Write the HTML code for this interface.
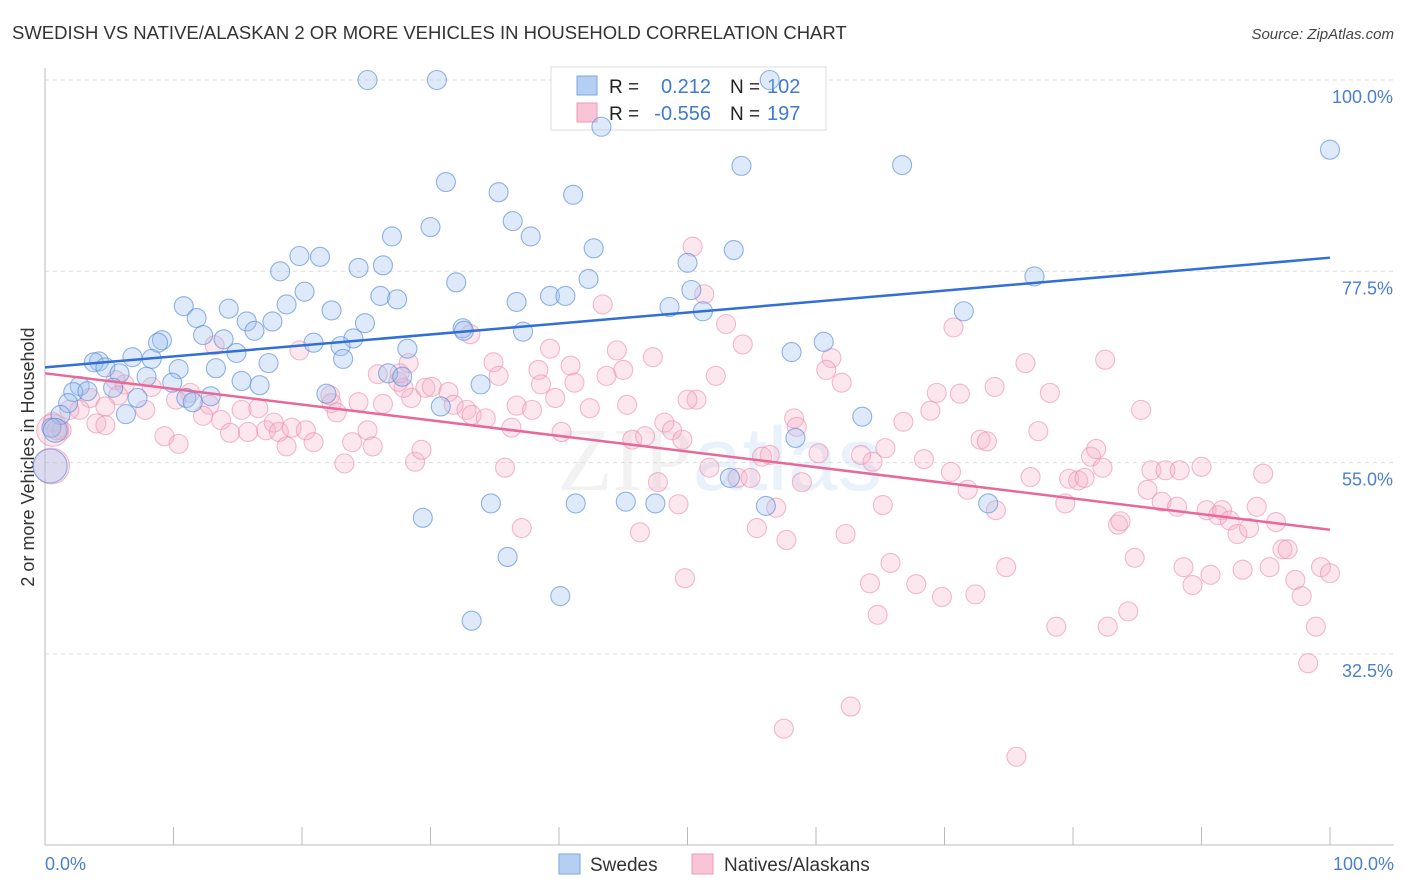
<!DOCTYPE html>
<html><head><meta charset="utf-8">
<style>
body{margin:0;background:#fff;font-family:"Liberation Sans",sans-serif;}
svg{display:block}
</style></head>
<body>
<svg id="chart" width="1406" height="892" viewBox="0 0 1406 892" xmlns="http://www.w3.org/2000/svg">
<text x="12" y="39" font-size="18.5" fill="#333">SWEDISH VS NATIVE/ALASKAN 2 OR MORE VEHICLES IN HOUSEHOLD CORRELATION CHART</text>
<text x="1394" y="39" font-size="15" fill="#444" font-style="italic" text-anchor="end">Source: ZipAtlas.com</text>
<text x="720" y="490" font-size="90" fill="#000" fill-opacity="0.05" text-anchor="middle" font-family="Liberation Serif, serif">ZIP<tspan font-family="Liberation Sans, sans-serif" fill="#4a8fd8" fill-opacity="0.12">atlas</tspan></text>
<text transform="translate(34,457) rotate(-90)" font-size="18" fill="#333" text-anchor="middle">2 or more Vehicles in Household</text>
<g id="grid"></g>
<g id="axes"></g>
<g>
<rect x="551" y="67" width="275" height="63" fill="#fff" stroke="#ddd"/>
<rect x="577" y="76" width="20" height="19" fill="#b5cff3" stroke="#7ba7e0"/>
<rect x="577" y="103" width="20" height="19" fill="#f9c4d5" stroke="#f09ab7"/>
<text x="609" y="93" font-size="19" fill="#222">R =</text>
<text x="711" y="93" font-size="20" fill="#3f7ad3" text-anchor="end">0.212</text>
<text x="730" y="93" font-size="19" fill="#222">N =</text>
<text x="767" y="93" font-size="20" fill="#3f7ad3">102</text>
<text x="609" y="120" font-size="19" fill="#222">R =</text>
<text x="711" y="120" font-size="20" fill="#3f7ad3" text-anchor="end">-0.556</text>
<text x="730" y="120" font-size="19" fill="#222">N =</text>
<text x="767" y="120" font-size="20" fill="#3f7ad3">197</text>
</g>
<g id="pts"></g>
<g id="trends"></g>
<g>
<rect x="559" y="854" width="21" height="20" fill="#b5cff3" stroke="#7ba7e0"/>
<text x="590" y="871" font-size="19" fill="#333">Swedes</text>
<rect x="692" y="854" width="21" height="20" fill="#f9c4d5" stroke="#f09ab7"/>
<text x="724" y="871" font-size="19" fill="#333">Natives/Alaskans</text>
</g>
</svg>
<script>
const yTicks=[100,77.5,55,32.5];
const yTickLabels=["100.0%","77.5%","55.0%","32.5%"];
const xTickLabels=["0.0%","100.0%"];
const blueX=[25.1,30.5,56.4,43.3,100,54.2,66.7,31.2,35.3,41.1,36.4,30.0,37.8,27.0,42.7,19.8,21.4,50.0,53.6,18.3,24.4,26.3,42.3,32.0,77.0,50.3,20.2,26.1,27.4,39.3,40.5,36.7,10.8,18.8,48.6,51.2,71.5,14.3,22.3,15.7,24.9,32.5,32.6,37.2,11.8,12.3,13.9,16.3,17.7,9.1,8.8,20.9,24.0,23.0,28.2,14.9,60.6,58.1,4.2,3.8,6.8,8.3,23.2,17.4,4.7,5.8,10.4,13.3,26.7,27.8,7.9,2.7,2.2,3.3,5.3,9.9,15.3,16.7,33.9,7.2,11.0,11.5,12.9,21.9,1.8,1.2,6.3,30.8,63.6,0.5,58.4,53.3,41.3,34.7,45.2,47.5,56.1,73.4,29.4,36.0,40.1,33.2,0.4,0.8];
const blueY=[100,100,100,94.5,91.8,89.9,90.0,88.0,86.8,86.5,83.4,82.7,81.6,81.6,80.2,79.3,79.2,78.5,80.0,77.5,77.9,78.2,76.6,76.2,76.9,75.3,75.1,74.6,74.2,74.6,74.6,73.9,73.4,73.6,73.3,72.8,72.8,73.1,72.9,71.6,71.4,70.8,70.5,70.4,72.0,70.0,69.5,70.5,71.6,69.4,69.1,69.1,69.6,68.7,68.4,67.9,69.2,68.0,66.9,66.8,67.4,67.2,67.2,66.7,66.2,65.5,66.0,66.1,65.5,65.1,65.1,64.0,63.3,63.4,63.8,64.4,64.6,64.1,64.2,62.6,62.6,62.1,62.8,63.1,62.0,60.6,60.7,61.6,60.4,59.1,57.9,53.2,50.2,50.2,50.4,50.2,49.9,50.2,48.5,43.9,39.3,36.4,54.6,58.8];
const pinkX=[50.4,51.3,43.4,33.1,53.0,70.7,54.3,13.2,19.8,34.9,39.3,44.5,47.3,61.2,82.5,76.3,28.3,40.9,25.9,35.3,43.7,45.0,52.2,60.8,5.5,6.2,8.3,11.3,12.8,15.3,16.6,10.2,5.7,3.5,2.7,1.9,4.7,0.6,1.3,4.0,4.7,7.8,9.3,10.4,12.3,13.7,14.4,17.2,17.8,18.2,19.2,20.3,20.9,18.8,15.8,22.2,22.3,22.7,23.9,23.3,25.1,25.5,24.4,26.3,28.5,27.9,27.5,29.6,30.1,31.4,31.8,32.8,33.2,34.3,36.7,37.9,36.3,28.8,29.3,35.8,37.1,38.4,38.6,39.7,40.2,41.2,42.4,45.3,45.7,46.7,46.3,47.7,48.2,48.8,49.3,50.7,49.6,51.7,49.8,53.9,54.9,55.4,55.8,56.4,56.9,57.7,58.3,58.5,58.9,60.2,62.0,62.3,64.4,65.4,65.2,63.5,65.8,64.2,64.8,62.7,57.5,66.8,67.8,68.4,68.9,69.4,70.5,69.8,71.2,71.8,72.4,73.9,74.0,72.8,73.3,74.8,76.7,77.3,78.2,78.7,79.4,79.7,80.4,80.9,81.4,81.8,82.7,83.5,83.7,84.8,84.3,85.3,85.8,86.1,86.9,87.2,88.1,88.3,88.6,89.3,90.0,90.4,90.7,91.3,91.6,92.2,92.8,93.2,93.7,94.3,94.8,95.3,95.8,96.3,96.7,97.3,97.8,98.3,98.9,99.3,100,75.6,82.3,50.0,0.9,27.6,0.6,0.5];
const pinkY=[80.4,74.8,73.6,70.1,71.3,70.9,68.9,68.8,68.2,66.8,68.4,68.2,67.4,67.3,67.1,66.7,66.7,66.4,65.4,65.2,65.2,65.9,65.2,65.9,64.7,64.2,63.9,63.2,61.8,61.2,61.4,62.4,62.9,62.6,61.2,61.2,61.6,59.8,58.8,59.6,59.4,61.2,58.1,57.2,60.5,60.0,58.5,58.8,59.7,58.6,59.1,58.8,57.4,56.9,58.6,62.9,62.0,60.9,57.4,54.9,58.8,56.9,62.1,61.9,62.6,63.8,64.5,63.8,63.9,63.3,61.8,61.2,60.6,60.2,61.7,61.2,59.1,55.1,56.5,54.4,47.3,65.9,64.2,62.6,58.6,64.4,61.4,61.8,57.7,58.1,46.8,52.7,59.7,58.8,50.1,62.4,57.7,54.4,41.4,53.2,53.2,47.3,55.7,55.9,49.7,45.9,60.2,59.2,52.7,56.1,64.4,46.6,55.1,56.7,50.0,55.9,43.2,40.8,37.1,26.3,23.7,59.8,40.7,55.4,61.1,63.2,53.9,39.2,63.1,51.8,39.5,63.9,49.4,57.7,57.5,42.7,53.3,58.7,63.2,35.7,50.2,53.1,52.9,53.2,55.7,56.6,35.7,47.7,48.1,43.8,37.5,61.2,51.8,54.1,50.4,54.1,49.8,54.1,42.7,40.6,54.5,49.4,41.8,48.8,49.4,48.2,46.6,42.4,47.3,49.8,53.7,42.7,48.0,44.8,44.8,41.2,39.3,31.4,35.7,42.7,42.0,20.4,54.4,62.4,58.8,65.5,58.8,54.6];
const blueTrend=[66.2,79.1];
const pinkTrend=[65.5,47.1];

const NS="http://www.w3.org/2000/svg";
const X0=45,X1=1330,Ytop=80;
function xs(v){return X0+(X1-X0)*v/100;}
function ys(v){return Ytop+(100-v)*8.502;}
function mk(tag,attrs,parent){const e=document.createElementNS(NS,tag);for(const k in attrs)e.setAttribute(k,attrs[k]);parent.appendChild(e);return e;}

const grid=document.getElementById('grid');
yTicks.forEach((t,i)=>{
  const l=mk('line',{x1:45,x2:1394,y1:ys(t),y2:ys(t),stroke:'#ddd','stroke-dasharray':'4,4'},grid);
  
  
  const tx=mk('text',{x:1393,y:ys(t)+23,'font-size':18,fill:'#4a7fd0','text-anchor':'end'},grid);
  tx.textContent=yTickLabels[i];
  
  
});
const axes=document.getElementById('axes');
const xa=mk('line',{x1:45,x2:1394,y1:845,y2:845,stroke:'#bbb'},axes);


const ya=mk('line',{x1:45,x2:45,y1:68,y2:845,stroke:'#bbb'},axes);


for(let i=0;i<=10;i++){
  const t=mk('line',{x1:xs(i*10),x2:xs(i*10),y1:827,y2:845,stroke:'#bbb'},axes);
  
  
}
[[0,'start',45],[100,'end',1394]].forEach((d,i)=>{
  const tx=mk('text',{x:d[2],y:870,'font-size':18,fill:'#4a7fd0','text-anchor':d[1]},axes);
  tx.textContent=xTickLabels[i];
  
  
});

const pts=document.getElementById('pts');
function drawSeries(X,Y,fill,stroke,name,bigR){
  X.forEach((x,i)=>{
    let r=9.5;
    if(i>=X.length-bigR.length) r=bigR[i-(X.length-bigR.length)];
    const c=mk('circle',{cx:xs(x),cy:ys(Y[i]),r:r,fill:fill,stroke:stroke,'stroke-width':1.1},pts);
    
    
  });
}
drawSeries(pinkX,pinkY,'rgba(246,175,200,0.3)','rgba(236,140,175,0.6)','point-natives',[16,18]);
drawSeries(blueX,blueY,'rgba(160,195,240,0.35)','rgba(90,140,215,0.65)','point-swedes',[17,12]);

const tr=document.getElementById('trends');
const bl=mk('line',{x1:xs(0),y1:ys(blueTrend[0]),x2:xs(100),y2:ys(blueTrend[1]),stroke:'#2f6fd6','stroke-width':2.5},tr);


const pl=mk('line',{x1:xs(0),y1:ys(pinkTrend[0]),x2:xs(100),y2:ys(pinkTrend[1]),stroke:'#e8689a','stroke-width':2.5},tr);


</script>
</body></html>
